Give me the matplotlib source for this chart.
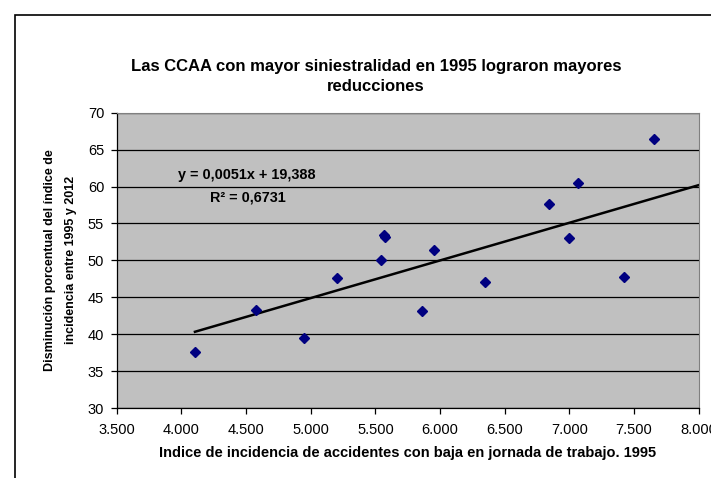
import numpy as np
import matplotlib
matplotlib.use("Agg")
import matplotlib.pyplot as plt
from matplotlib.patches import Rectangle

plt.rcParams['font.family'] = ['Liberation Sans', 'DejaVu Sans']

# --- datos ---
indice_1995 = [4105, 4575, 4948, 5201, 5547, 5568, 5571, 5860, 5953,
               6351, 6841, 6998, 7070, 7425, 7654]
disminucion = [37.6, 43.3, 39.5, 47.6, 50.1, 53.5, 53.2, 43.2, 51.4,
               47.0, 57.7, 53.0, 60.5, 47.8, 66.4]

pendiente = 0.0051
ordenada = 19.388

x_ticks = [3500, 4000, 4500, 5000, 5500, 6000, 6500, 7000, 7500, 8000]
x_tick_labels = ['3.500', '4.000', '4.500', '5.000', '5.500', '6.000',
                 '6.500', '7.000', '7.500', '8.000']
y_ticks = [30, 35, 40, 45, 50, 55, 60, 65, 70]

fig = plt.figure(figsize=(7.11, 4.78), dpi=100)
ax = fig.add_axes([116.7 / 711, 1 - 408 / 478, (698.7 - 116.7) / 711, (408 - 112.7) / 478])

# marco exterior de la figura (cortado por la derecha y abajo)
fig.patches.append(Rectangle((15 / 711, -0.1), 1.2, 1 - 15 / 478 + 0.1,
                             transform=fig.transFigure, fill=False,
                             edgecolor='black', linewidth=1.2))

ax.set_facecolor('#C0C0C0')
for lado in ['top', 'right']:
    ax.spines[lado].set_color('#808080')
for lado in ['left', 'bottom']:
    ax.spines[lado].set_color('black')
    ax.spines[lado].set_linewidth(0.9)

ax.yaxis.grid(True, color='black', linewidth=0.9)
ax.set_axisbelow(True)

# puntos
ax.plot(indice_1995, disminucion, linestyle='none', marker='D',
        markersize=5, color='#000080', zorder=3)

# linea de tendencia
x_tend = np.array([min(indice_1995), 8000])
ax.plot(x_tend, pendiente * x_tend + ordenada, color='black', linewidth=1.8, zorder=2)

ax.text(3974, 61.6, 'y = 0,0051x + 19,388', fontsize=10.4, fontweight='bold',
        ha='left', va='center')
ax.text(4221, 58.45, 'R\u00b2 = 0,6731', fontsize=10.4,
        fontweight='bold', ha='left', va='center')

ax.set_xlim(3500, 8000)
ax.set_ylim(30, 70)
ax.set_xticks(x_ticks)
ax.set_xticklabels(x_tick_labels)
ax.set_yticks(y_ticks)
ax.tick_params(axis='both', labelsize=10.5, length=4, width=0.9, direction='out')
ax.tick_params(axis='x', pad=7)
ax.tick_params(axis='y', pad=5)

ax.set_xlabel('Indice de incidencia de accidentes con baja en jornada de trabajo. 1995',
              fontsize=10.5, fontweight='bold', labelpad=6)
ax.set_ylabel('Disminución porcentual del índice de\nincidencia entre 1995 y 2012',
              fontsize=9, fontweight='bold', labelpad=8, linespacing=1.95)

fig.text(376 / 711, 1 - 76.5 / 478,
         'Las CCAA con mayor siniestralidad en 1995 lograron mayores\nreducciones',
         fontsize=12, fontweight='bold', ha='center', va='center', linespacing=1.45)

fig.savefig('out.png', dpi=100)
